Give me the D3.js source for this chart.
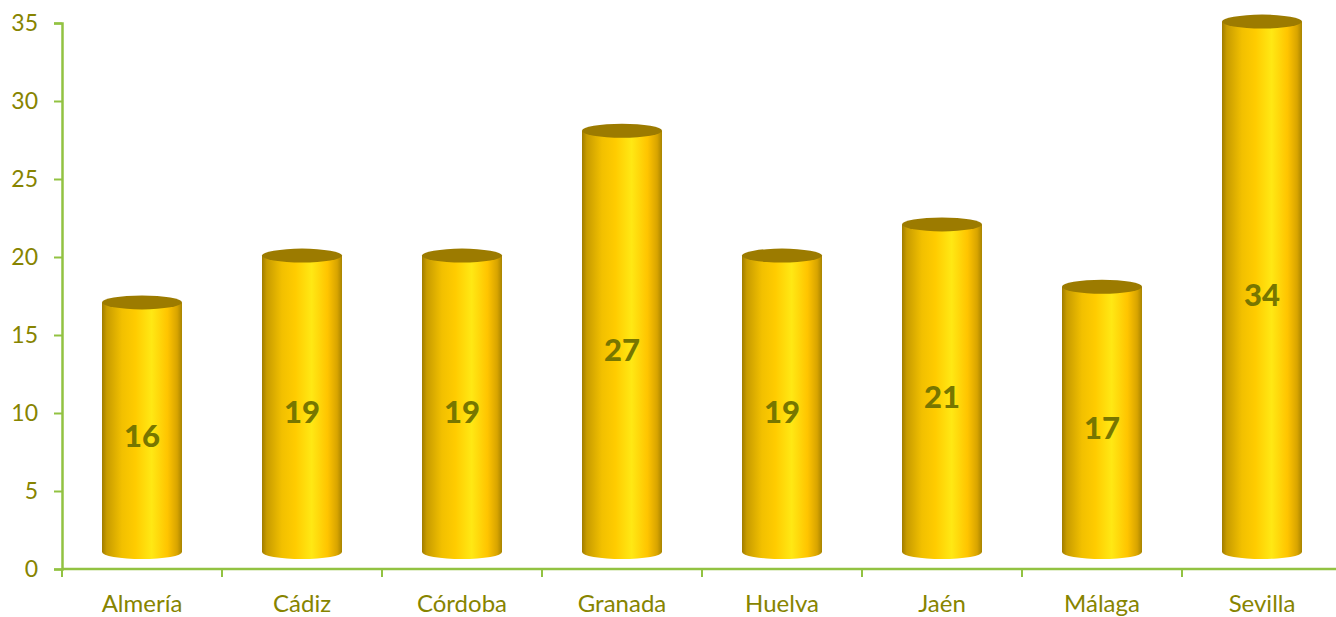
<!DOCTYPE html>
<html>
<head>
<meta charset="utf-8">
<script src="https://cdn.jsdelivr.net/npm/d3@7"></script>
<style>
  body { margin: 0; background: #fff; }
  svg { display: block; }
  svg text { font-family: Lato, "Open Sans", sans-serif; }
</style>
</head>
<body>
<div id="chart"></div>
<script>
// data
var provincias = ["Almería", "Cádiz", "Córdoba", "Granada", "Huelva", "Jaén", "Málaga", "Sevilla"];
var valores = [16, 19, 19, 27, 19, 21, 17, 34];
var yTicks = [0, 5, 10, 15, 20, 25, 30, 35];

var W = 1336, H = 617;
var margin = {left: 62, right: -6, top: 23, bottom: 48};
var depth = 17;      // 3d offset of the cylinders
var ry = 7;          // ellipse radius

var svg = d3.select("#chart").append("svg")
  .attr("width", W).attr("height", H);

var x = d3.scaleBand().domain(provincias)
  .range([margin.left, W - margin.right]).paddingInner(0.5).paddingOuter(0.25);
var y = d3.scaleLinear().domain([0, 35]).range([H - margin.bottom, margin.top]);

// gradient for the cylinder body
var defs = svg.append("defs");
var grad = defs.append("linearGradient").attr("id", "cyl")
  .attr("x1", "0%").attr("x2", "100%").attr("y1", "0%").attr("y2", "0%");
[[0, "#a07c00"], [0.06, "#c89c00"], [0.25, "#f2c000"], [0.42, "#ffcc00"],
 [0.62, "#ffe814"], [0.82, "#ffc400"], [0.94, "#d8a400"], [1, "#a88400"]]
  .forEach(function(s){ grad.append("stop").attr("offset", s[0]).attr("stop-color", s[1]); });

// y axis
var gy = svg.append("g").attr("transform", "translate(" + margin.left + ",0)")
  .call(d3.axisLeft(y).tickValues(yTicks).tickSize(8).tickPadding(16));
// x axis
var gx = svg.append("g").attr("transform", "translate(0," + y(0) + ")")
  .call(d3.axisBottom(x).tickSize(0).tickPadding(26));

[gy, gx].forEach(function(g){
  g.attr("font-family", null).attr("font-size", null);
  g.select(".domain").attr("stroke", "#92c242").attr("stroke-width", 2.5);
  g.selectAll(".tick line").attr("stroke", "#92c242").attr("stroke-width", 2);
  g.selectAll("text").attr("fill", "#878400").style("font-size", "23px");
});
gx.selectAll("text").style("font-size", "24px");
gx.select(".domain").attr("d", "M" + margin.left + ",0H" + W);

// x tick marks at band boundaries
var step = x.step();
svg.append("g").selectAll("line").data(d3.range(provincias.length))
  .join("line")
  .attr("x1", function(i){ return margin.left + i * step; })
  .attr("x2", function(i){ return margin.left + i * step; })
  .attr("y1", y(0)).attr("y2", y(0) + 8)
  .attr("stroke", "#92c242").attr("stroke-width", 2);

// cylinders
var bars = svg.append("g").selectAll("g").data(valores).join("g");
bars.append("path")
  .attr("d", function(d, i){
    var x0 = x(provincias[i]), bw = x.bandwidth(), rx = bw / 2;
    var top = y(d) - depth, bot = y(0) - depth;
    return "M" + x0 + "," + top + "L" + x0 + "," + bot +
      "A" + rx + "," + ry + " 0 0 0 " + (x0 + bw) + "," + bot +
      "L" + (x0 + bw) + "," + top + "Z";
  })
  .attr("fill", "url(#cyl)");
bars.append("ellipse")
  .attr("cx", function(d, i){ return x(provincias[i]) + x.bandwidth() / 2; })
  .attr("cy", function(d){ return y(d) - depth; })
  .attr("rx", x.bandwidth() / 2).attr("ry", ry)
  .attr("fill", "#9c7b00");

bars.append("text")
  .attr("x", function(d, i){ return x(provincias[i]) + x.bandwidth() / 2; })
  .attr("y", function(d){ return y(d / 2) - depth / 2; })
  .attr("dy", "0.35em")
  .attr("text-anchor", "middle")
  .style("font-size", "31px").attr("font-weight", "900")
  .attr("fill", "#777600")
  .text(function(d){ return d; });
</script>
</body>
</html>
